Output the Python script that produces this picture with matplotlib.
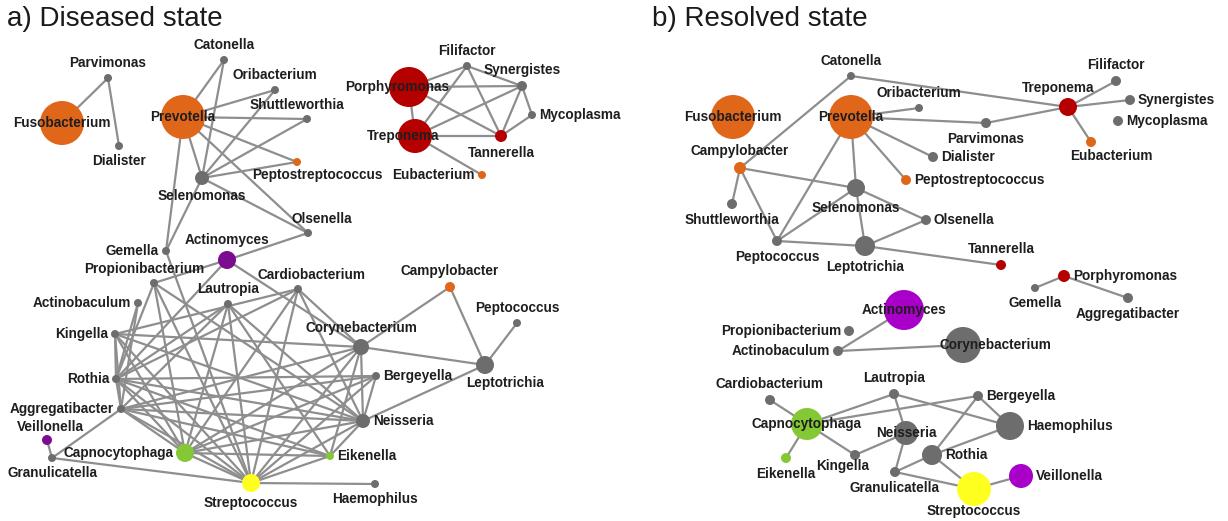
import matplotlib.pyplot as plt

# Colours by genus group
GREY = '#6d6d6d'
ORANGE = '#e0661a'
RED = '#b50000'
PURPLE_A = '#7d0d8f'
PURPLE_B = '#a800c8'
GREEN = '#84c836'
YELLOW = '#ffff1f'
EDGE = '#8e8e8e'

# ---- a) Diseased state ----
# name: (x, y, radius, colour, label side)
nodes_a = {
    'Parvimonas': (108, 78, 4, GREY, 'top'),
    'Fusobacterium': (62, 123, 22, ORANGE, 'center'),
    'Dialister': (119, 146, 4, GREY, 'bottom'),
    'Catonella': (224, 60, 4, GREY, 'top'),
    'Oribacterium': (275, 90, 4, GREY, 'top'),
    'Shuttleworthia': (307, 119, 4, GREY, 'topl'),
    'Prevotella': (183, 117, 22, ORANGE, 'center'),
    'Peptostreptococcus': (297, 162, 4, ORANGE, 'bottomr'),
    'Selenomonas': (202, 178, 7, GREY, 'bottom'),
    'Olsenella': (308, 233, 4, GREY, 'topr'),
    'Gemella': (166, 251, 4, GREY, 'left'),
    'Actinomyces': (227, 260, 9, PURPLE_A, 'top'),
    'Porphyromonas': (409, 87, 20, RED, 'centerl'),
    'Treponema': (415, 136, 17, RED, 'centerl'),
    'Filifactor': (467, 66, 4, GREY, 'top'),
    'Synergistes': (522, 86, 5, GREY, 'top'),
    'Mycoplasma': (532, 115, 4, GREY, 'right'),
    'Tannerella': (501, 136, 6, RED, 'bottom'),
    'Eubacterium': (482, 175, 4, ORANGE, 'left'),
    'Propionibacterium': (154, 283, 4, GREY, 'topl'),
    'Actinobaculum': (138, 303, 4, GREY, 'left'),
    'Kingella': (115, 334, 4, GREY, 'left'),
    'Rothia': (116, 379, 4, GREY, 'left'),
    'Aggregatibacter': (121, 409, 4, GREY, 'left'),
    'Veillonella': (47, 440, 5, PURPLE_A, 'topn'),
    'Granulicatella': (52, 458, 4, GREY, 'bottom'),
    'Capnocytophaga': (185, 453, 9, GREEN, 'left'),
    'Streptococcus': (251, 483, 9, YELLOW, 'bottom'),
    'Lautropia': (228, 304, 4, GREY, 'top'),
    'Cardiobacterium': (298, 289, 4, GREY, 'topr'),
    'Corynebacterium': (361, 347, 8, GREY, 'top'),
    'Campylobacter': (450, 287, 5, ORANGE, 'top'),
    'Peptococcus': (517, 323, 4, GREY, 'top'),
    'Leptotrichia': (485, 365, 9, GREY, 'bottomr'),
    'Bergeyella': (376, 376, 4, GREY, 'right'),
    'Neisseria': (363, 421, 7, GREY, 'right'),
    'Eikenella': (330, 456, 4, GREEN, 'right'),
    'Haemophilus': (375, 484, 4, GREY, 'bottom'),
}

edges_a = [
    ('Fusobacterium', 'Parvimonas'), ('Parvimonas', 'Dialister'),
    ('Prevotella', 'Catonella'), ('Prevotella', 'Oribacterium'),
    ('Prevotella', 'Shuttleworthia'), ('Prevotella', 'Peptostreptococcus'),
    ('Prevotella', 'Selenomonas'), ('Prevotella', 'Olsenella'),
    ('Prevotella', 'Gemella'),
    ('Selenomonas', 'Catonella'), ('Selenomonas', 'Oribacterium'),
    ('Selenomonas', 'Shuttleworthia'), ('Selenomonas', 'Peptostreptococcus'),
    ('Selenomonas', 'Olsenella'), ('Selenomonas', 'Gemella'),
    ('Olsenella', 'Actinomyces'),
    ('Porphyromonas', 'Filifactor'), ('Porphyromonas', 'Synergistes'),
    ('Porphyromonas', 'Tannerella'), ('Porphyromonas', 'Treponema'),
    ('Treponema', 'Filifactor'), ('Treponema', 'Synergistes'),
    ('Treponema', 'Tannerella'), ('Treponema', 'Eubacterium'),
    ('Filifactor', 'Synergistes'), ('Filifactor', 'Tannerella'),
    ('Synergistes', 'Mycoplasma'), ('Synergistes', 'Tannerella'),
    ('Mycoplasma', 'Tannerella'),
    ('Gemella', 'Streptococcus'),
    ('Actinomyces', 'Propionibacterium'), ('Actinomyces', 'Rothia'),
    ('Actinomyces', 'Corynebacterium'),
    ('Propionibacterium', 'Rothia'), ('Propionibacterium', 'Capnocytophaga'),
    ('Propionibacterium', 'Neisseria'), ('Propionibacterium', 'Streptococcus'),
    ('Actinobaculum', 'Rothia'), ('Actinobaculum', 'Aggregatibacter'),
    ('Kingella', 'Rothia'), ('Kingella', 'Corynebacterium'),
    ('Kingella', 'Capnocytophaga'), ('Kingella', 'Neisseria'),
    ('Kingella', 'Streptococcus'), ('Kingella', 'Aggregatibacter'),
    ('Rothia', 'Lautropia'), ('Rothia', 'Cardiobacterium'),
    ('Rothia', 'Neisseria'), ('Rothia', 'Capnocytophaga'),
    ('Rothia', 'Streptococcus'), ('Rothia', 'Bergeyella'),
    ('Rothia', 'Aggregatibacter'), ('Rothia', 'Eikenella'),
    ('Aggregatibacter', 'Granulicatella'), ('Aggregatibacter', 'Capnocytophaga'),
    ('Aggregatibacter', 'Neisseria'), ('Aggregatibacter', 'Bergeyella'),
    ('Aggregatibacter', 'Corynebacterium'), ('Aggregatibacter', 'Streptococcus'),
    ('Aggregatibacter', 'Eikenella'),
    ('Granulicatella', 'Veillonella'), ('Granulicatella', 'Streptococcus'),
    ('Lautropia', 'Capnocytophaga'), ('Lautropia', 'Streptococcus'),
    ('Lautropia', 'Neisseria'), ('Lautropia', 'Aggregatibacter'),
    ('Lautropia', 'Eikenella'),
    ('Cardiobacterium', 'Corynebacterium'), ('Cardiobacterium', 'Neisseria'),
    ('Cardiobacterium', 'Capnocytophaga'), ('Cardiobacterium', 'Streptococcus'),
    ('Cardiobacterium', 'Kingella'),
    ('Corynebacterium', 'Campylobacter'), ('Corynebacterium', 'Leptotrichia'),
    ('Corynebacterium', 'Neisseria'), ('Corynebacterium', 'Eikenella'),
    ('Corynebacterium', 'Capnocytophaga'), ('Corynebacterium', 'Streptococcus'),
    ('Leptotrichia', 'Campylobacter'), ('Leptotrichia', 'Peptococcus'),
    ('Leptotrichia', 'Neisseria'),
    ('Bergeyella', 'Neisseria'), ('Bergeyella', 'Streptococcus'),
    ('Bergeyella', 'Capnocytophaga'),
    ('Neisseria', 'Capnocytophaga'), ('Neisseria', 'Streptococcus'),
    ('Neisseria', 'Eikenella'),
    ('Streptococcus', 'Haemophilus'), ('Streptococcus', 'Capnocytophaga'),
    ('Streptococcus', 'Eikenella'), ('Eikenella', 'Capnocytophaga'),
]

# ---- b) Resolved state ----
nodes_b = {
    'Fusobacterium': (733, 117, 22, ORANGE, 'center'),
    'Catonella': (851, 76, 4, GREY, 'top'),
    'Prevotella': (851, 117, 22, ORANGE, 'center'),
    'Oribacterium': (919, 108, 4, GREY, 'top'),
    'Parvimonas': (986, 123, 5, GREY, 'bottom'),
    'Dialister': (933, 157, 5, GREY, 'right'),
    'Peptostreptococcus': (906, 180, 5, ORANGE, 'right'),
    'Treponema': (1068, 107, 9, RED, 'topl'),
    'Filifactor': (1116, 81, 5, GREY, 'top'),
    'Synergistes': (1130, 100, 5, GREY, 'right'),
    'Mycoplasma': (1118, 121, 5, GREY, 'right'),
    'Eubacterium': (1091, 142, 5, ORANGE, 'bottomr'),
    'Campylobacter': (740, 168, 6, ORANGE, 'top'),
    'Shuttleworthia': (732, 204, 5, GREY, 'bottom'),
    'Selenomonas': (856, 188, 9, GREY, 'bottom'),
    'Olsenella': (926, 220, 5, GREY, 'right'),
    'Peptococcus': (777, 241, 5, GREY, 'bottom'),
    'Leptotrichia': (865, 246, 10, GREY, 'bottom'),
    'Tannerella': (1001, 265, 5, RED, 'top'),
    'Porphyromonas': (1064, 276, 6, RED, 'right'),
    'Gemella': (1035, 288, 4, GREY, 'bottom'),
    'Aggregatibacter': (1128, 298, 5, GREY, 'bottom'),
    'Actinomyces': (904, 310, 20, PURPLE_B, 'center'),
    'Propionibacterium': (849, 331, 5, GREY, 'left'),
    'Actinobaculum': (838, 351, 5, GREY, 'left'),
    'Corynebacterium': (963, 345, 18, GREY, 'centerr'),
    'Cardiobacterium': (770, 400, 5, GREY, 'top'),
    'Lautropia': (894, 394, 5, GREY, 'top'),
    'Bergeyella': (978, 396, 5, GREY, 'right'),
    'Capnocytophaga': (807, 424, 16, GREEN, 'center'),
    'Neisseria': (906, 433, 12, GREY, 'center'),
    'Haemophilus': (1010, 426, 14, GREY, 'right'),
    'Eikenella': (786, 458, 5, GREEN, 'bottom'),
    'Kingella': (855, 455, 5, GREY, 'bottoml'),
    'Rothia': (932, 455, 10, GREY, 'right'),
    'Granulicatella': (895, 472, 5, GREY, 'bottom'),
    'Streptococcus': (974, 489, 17, YELLOW, 'bottomt'),
    'Veillonella': (1021, 476, 12, PURPLE_B, 'right'),
}

edges_b = [
    ('Catonella', 'Treponema'), ('Catonella', 'Campylobacter'),
    ('Prevotella', 'Oribacterium'), ('Prevotella', 'Parvimonas'),
    ('Prevotella', 'Dialister'), ('Prevotella', 'Peptostreptococcus'),
    ('Prevotella', 'Selenomonas'), ('Prevotella', 'Peptococcus'),
    ('Parvimonas', 'Treponema'),
    ('Treponema', 'Filifactor'), ('Treponema', 'Synergistes'),
    ('Treponema', 'Eubacterium'),
    ('Campylobacter', 'Shuttleworthia'), ('Campylobacter', 'Selenomonas'),
    ('Campylobacter', 'Peptococcus'),
    ('Selenomonas', 'Peptococcus'), ('Selenomonas', 'Olsenella'),
    ('Selenomonas', 'Leptotrichia'),
    ('Leptotrichia', 'Olsenella'), ('Leptotrichia', 'Peptococcus'),
    ('Leptotrichia', 'Tannerella'),
    ('Porphyromonas', 'Gemella'), ('Porphyromonas', 'Aggregatibacter'),
    ('Actinomyces', 'Actinobaculum'), ('Actinobaculum', 'Corynebacterium'),
    ('Capnocytophaga', 'Cardiobacterium'), ('Capnocytophaga', 'Eikenella'),
    ('Capnocytophaga', 'Lautropia'), ('Capnocytophaga', 'Bergeyella'),
    ('Capnocytophaga', 'Kingella'),
    ('Kingella', 'Neisseria'),
    ('Lautropia', 'Neisseria'), ('Lautropia', 'Haemophilus'),
    ('Neisseria', 'Granulicatella'),
    ('Granulicatella', 'Rothia'), ('Granulicatella', 'Streptococcus'),
    ('Rothia', 'Bergeyella'), ('Rothia', 'Haemophilus'),
    ('Rothia', 'Streptococcus'),
    ('Bergeyella', 'Haemophilus'),
    ('Streptococcus', 'Veillonella'),
]

LABEL_POS = {
    'top': (0, -8, 'center', 'bottom'),
    'topn': (3, -5, 'center', 'bottom'),
    'topl': (-10, -7, 'center', 'bottom'),
    'topr': (14, -7, 'center', 'bottom'),
    'bottom': (0, 8, 'center', 'top'),
    'bottomt': (0, 2, 'center', 'top'),
    'bottoml': (-12, 3, 'center', 'top'),
    'bottomr': (20, 6, 'center', 'top'),
    'left': (-3, 0, 'right', 'center'),
    'right': (3, 0, 'left', 'center'),
    'center': (0, 0, 'center', 'center'),
    'centerl': (-12, 0, 'center', 'center'),
    'centerr': (32, 0, 'center', 'center'),
}


def draw_network(ax, nodes, edges):
    for a, b in edges:
        xa, ya = nodes[a][:2]
        xb, yb = nodes[b][:2]
        ax.plot([xa, xb], [ya, yb], color=EDGE, lw=1.6, zorder=1,
                solid_capstyle='round')
    for name, (x, y, r, col, side) in nodes.items():
        ax.scatter(x, y, s=(1.44 * r) ** 2, color=col, edgecolors='none',
                   zorder=2)
        dx, dy, ha, va = LABEL_POS[side]
        if side in ('left', 'right'):
            dx = dx + (r if side == 'right' else -r)
        elif side.startswith('top'):
            dy = dy - max(r - 4, 0)
        elif side.startswith('bottom'):
            dy = dy + max(r - 4, 0)
        ax.text(x + dx, y + dy, name, ha=ha, va=va, fontsize=9.8,
                fontweight='bold', color='#1e1e1e', zorder=3,
                family=['Liberation Sans', 'DejaVu Sans'])


fig = plt.figure(figsize=(12.28, 5.21), dpi=100)
ax = fig.add_axes([0, 0, 1, 1])
ax.set_xlim(0, 1228)
ax.set_ylim(521, 0)
ax.axis('off')

draw_network(ax, nodes_a, edges_a)
draw_network(ax, nodes_b, edges_b)

ax.text(7, 19, 'a) Diseased state', fontsize=20, ha='left', va='center',
        color='#1a1a1a', family=['Liberation Sans', 'DejaVu Sans'])
ax.text(652, 19, 'b) Resolved state', fontsize=20, ha='left', va='center',
        color='#1a1a1a', family=['Liberation Sans', 'DejaVu Sans'])

fig.savefig('out.png', dpi=100, facecolor='white')
